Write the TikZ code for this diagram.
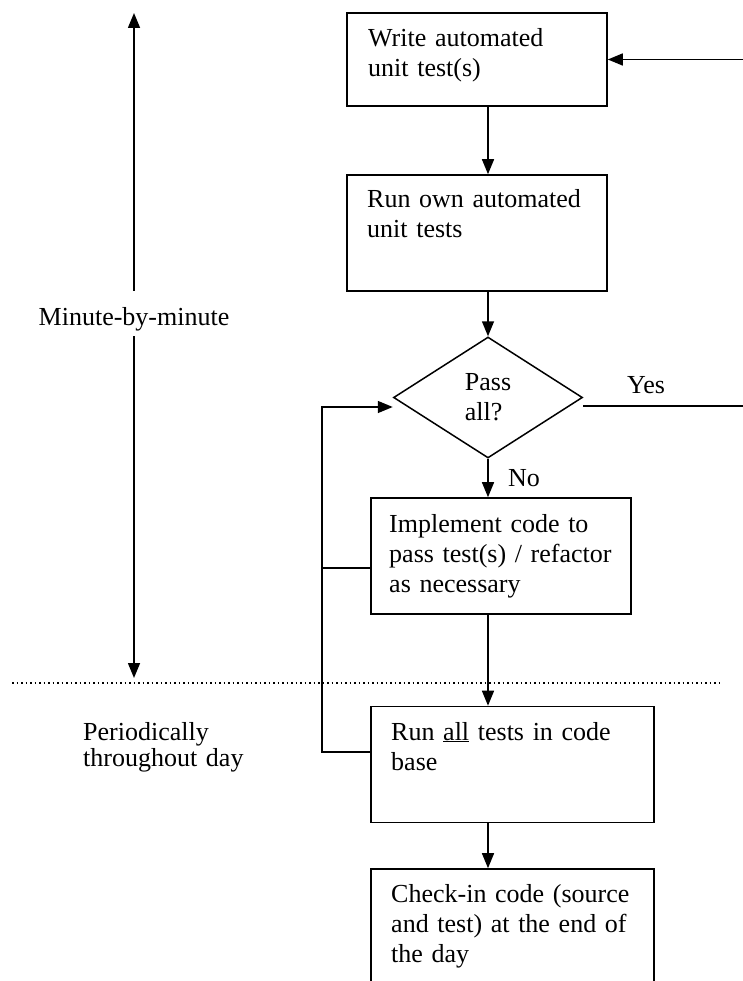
\documentclass[tikz,border=0pt]{standalone}
\usepackage{fontspec}
\setmainfont{Liberation Serif}
\usetikzlibrary{arrows.meta,shapes.geometric}
\begin{document}
\begin{tikzpicture}[x=1pt,y=-1pt,
  box/.style={draw, line width=1.6pt, inner sep=0pt, minimum height=116pt},
  decision/.style={diamond, draw, line width=1.5pt, inner sep=0pt,
    minimum width=189pt, minimum height=121pt, align=left,
    font=\fontsize{26}{30}\selectfont},
  txt/.style={anchor=base west, inner sep=0pt, align=left, text width=#1,
    font=\fontsize{26}{30}\selectfont},
  txt/.default=280pt,
  flow/.style={line width=1.5pt, -{Triangle[length=15pt,width=12pt]}},
  wire/.style={line width=1.5pt},
  divider/.style={line width=1.5pt, dash pattern=on 1.5pt off 3pt}
]
\useasboundingbox (0,0) rectangle (743,981);

% process boxes and the decision
\node[box, minimum width=260pt, minimum height=93pt] (b1) at (477,59.5) {};
\node[box, minimum width=260pt] (b2) at (477,233) {};
\node[decision] (pass) at (488,397.5) {Pass\\all?};
\node[box, minimum width=260pt] (b3) at (501,556) {};
\node[box, minimum width=283pt] (b4) at (512.5,764.5) {};
\node[box, minimum width=283pt] (b5) at (512.5,927) {};

% box texts
\node[txt] (t1) at (368,47) {Write automated\\unit test(s)};
\node[txt] (t2) at (367,208) {Run own automated\\unit tests};
\node[txt] (t3) at (389,532) {Implement code to\\pass test(s) / refactor\\as necessary};
\node[txt] (t4) at (391,740) {Run \underline{all} tests in code\\base};
\node[txt] (t5) at (391,902) {Check-in code (source\\and test) at the end of\\the day};

% side labels
\node[txt=200pt, font=\fontsize{26}{26}\selectfont] (per) at (83,740) {Periodically\\throughout day};
\node[anchor=base, inner sep=0pt, font=\fontsize{26}{30}\selectfont] (mm) at (134,325) {Minute-by-minute};
\node[txt] (yes) at (627,393) {Yes};
\node[txt] (no) at (508,486) {No};

% main flow
\draw[flow] (pass |- b1.south) -- (pass |- b2.north);
\draw[flow] (pass |- b2.south) -- (pass.north);
\draw[flow] (pass.south) -- (pass |- b3.north);
\draw[flow] (pass |- b3.south) -- (pass |- b4.north);
\draw[flow] (pass |- b4.south) -- (pass |- b5.north);

% feedback loop from the implementation and full test run
\coordinate (inL) at ([yshift=-9.5pt]pass.west);
\coordinate (bend) at ([shift={(-48pt,12.5pt)}]b4.west);
\coordinate (j3) at ([yshift=-12pt]b3.west);
\draw[flow] ([yshift=12.5pt]b4.west) -- (bend) |- (inL);
\draw[wire] (j3) -- (j3 -| bend);

% "Yes" path back to the first box
\coordinate (rim) at (745,0);
\coordinate (outR) at ([yshift=-8.5pt]pass.east);
\draw[wire] (outR) -- (outR -| rim);
\draw[flow] (b1.east -| rim) -- (b1.east);

% time-scale arrow and divider
\coordinate (mtop) at (134,13);
\coordinate (mbot) at (134,678);
\draw[flow] ([yshift=16pt]mm.north) -- (mtop);
\draw[flow] ([yshift=-5.4pt]mm.south) -- (mbot);
\coordinate (dl) at (12,683);
\coordinate (dr) at (722,683);
\draw[divider] (dl) -- (dr);
\end{tikzpicture}
\end{document}
